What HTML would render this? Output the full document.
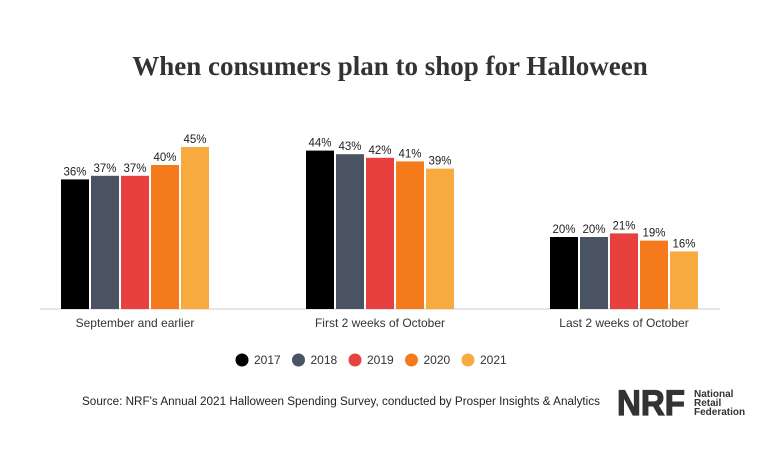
<!DOCTYPE html>
<html><head><meta charset="utf-8"><style>
body{margin:0;background:#fff;width:760px;height:450px;overflow:hidden;font-family:"Liberation Sans",sans-serif}
</style></head><body>
<svg width="760" height="450">
<text x="390" y="75" text-anchor="middle" font-family="Liberation Serif" font-weight="bold" font-size="27" fill="#333">When consumers plan to shop for Halloween</text>
<line x1="40" y1="309" x2="720" y2="309" stroke="#ccc" stroke-width="1"/>
<g id="bars"></g>
<g id="legend"></g>
<text x="82" y="405" font-size="11.5" fill="#222" textLength="518" lengthAdjust="spacingAndGlyphs">Source: NRF's Annual 2021 Halloween Spending Survey, conducted by Prosper Insights &amp; Analytics</text>
<g>
<text x="617" y="415" font-size="35" font-weight="900" fill="#333" stroke="#333" stroke-width="1.2" textLength="68" lengthAdjust="spacingAndGlyphs">NRF</text>
<text x="694" y="397" font-size="10" font-weight="bold" fill="#333">National</text>
<text x="694" y="406" font-size="10" font-weight="bold" fill="#333">Retail</text>
<text x="694" y="415" font-size="10" font-weight="bold" fill="#333">Federation</text>
</g>
</svg>
<script>
const categories=["September and earlier","First 2 weeks of October","Last 2 weeks of October"];
const years=["2017","2018","2019","2020","2021"];
const s2017=[36,44,20];
const s2018=[37,43,20];
const s2019=[37,42,21];
const s2020=[40,41,19];
const s2021=[45,39,16];
const series=[s2017,s2018,s2019,s2020,s2021];
const colors=["#000000","#4a5362","#e8403f","#f57a1c","#f8aa3f"];
const NS="http://www.w3.org/2000/svg";
const base=309,perPct=3.6,barW=28,pitch=30,groupX=[61,306,550];
const y=v=>base-v*perPct;
const g=document.getElementById('bars');
function mk(t,a){const e=document.createElementNS(NS,t);for(const k in a)e.setAttribute(k,a[k]);return e;}
categories.forEach((c,ci)=>{
  series.forEach((s,si)=>{
    const x=groupX[ci]+si*pitch;
    const r=mk('rect',{x:x,y:y(s[ci]),width:barW,height:base-y(s[ci]),fill:colors[si]});
    
    
    g.appendChild(r);
    const t=mk('text',{x:x+barW/2,y:y(s[ci])-4,'text-anchor':'middle','font-size':'11.5',fill:'#222'});
    t.textContent=s[ci]+'%';
    
    
    g.appendChild(t);
  });
  const l=mk('text',{x:groupX[ci]+2*pitch+barW/2,y:327,'text-anchor':'middle','font-size':'12',fill:'#333'});
  l.textContent=c;
  
  
  g.appendChild(l);
});
const lg=document.getElementById('legend');
years.forEach((yr,i)=>{
  const cx=242+i*56.5;
  const e=mk('g',{});
  
  
  e.appendChild(mk('circle',{cx:cx,cy:360,r:6.5,fill:colors[i]}));
  const t=mk('text',{x:cx+12,y:364,'font-size':'12',fill:'#333'});t.textContent=yr;e.appendChild(t);
  lg.appendChild(e);
});
</script>
</body></html>
